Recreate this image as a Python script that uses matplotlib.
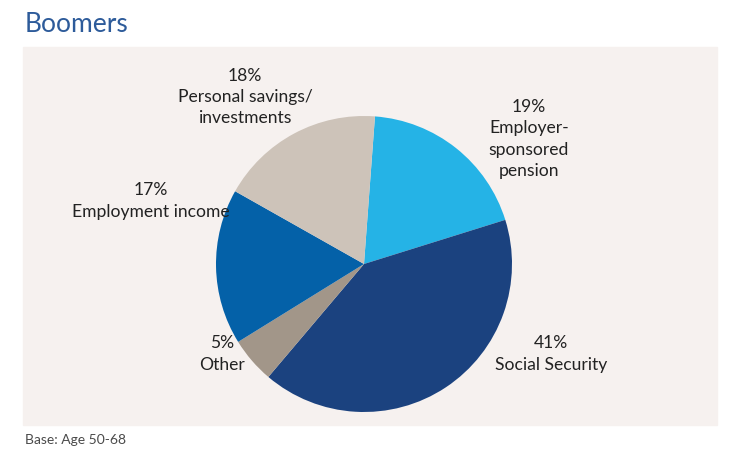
import matplotlib.pyplot as plt
from matplotlib.patches import Rectangle

plt.rcParams['font.family'] = ['Lato', 'DejaVu Sans']

# data
sources = ['Employer-\nsponsored\npension', 'Social Security', 'Other',
           'Employment income', 'Personal savings/\ninvestments']
shares = [19, 41, 5, 17, 18]
colors = ['#25b3e6', '#1b427f', '#a29689', '#0461a8', '#cdc3b9']

W, H = 736, 471
fig = plt.figure(figsize=(W / 100, H / 100), dpi=100)

# background panel
fig.patches.append(Rectangle((23 / W, 1 - 425 / H), 694 / W, 378 / H,
                             transform=fig.transFigure, color='#f6f1ef', zorder=-1))

fig.text(25 / W, 1 - 25 / H, 'Boomers', fontsize=19, color='#2d5b9a',
         va='center', ha='left')
fig.text(25 / W, 1 - 440 / H, 'Base: Age 50-68', fontsize=10, color='#4a4a4a',
         va='center', ha='left')

# pie axes
cx, cy, r = 364, 264, 148
ax = fig.add_axes([(cx - r) / W, (H - cy - r) / H, 2 * r / W, 2 * r / H], zorder=2)
ax.patch.set_visible(False)
ax.pie(shares, colors=colors, startangle=85.75, counterclock=False,
       wedgeprops=dict(linewidth=0))
ax.set_xlim(-1, 1)
ax.set_ylim(-1, 1)
ax.axis('off')

# labels (figure pixel positions of label centres)
label_pos = [(529, 139), (551, 354), (222, 354), (151, 201), (245, 97)]
for name, val, (x, y) in zip(sources, shares, label_pos):
    fig.text(x / W, 1 - y / H, f'{val}%\n{name}', fontsize=12.6, color='#222222',
             ha='center', va='center', linespacing=1.4, zorder=3)

plt.savefig('out.png', dpi=100)
plt.close()
